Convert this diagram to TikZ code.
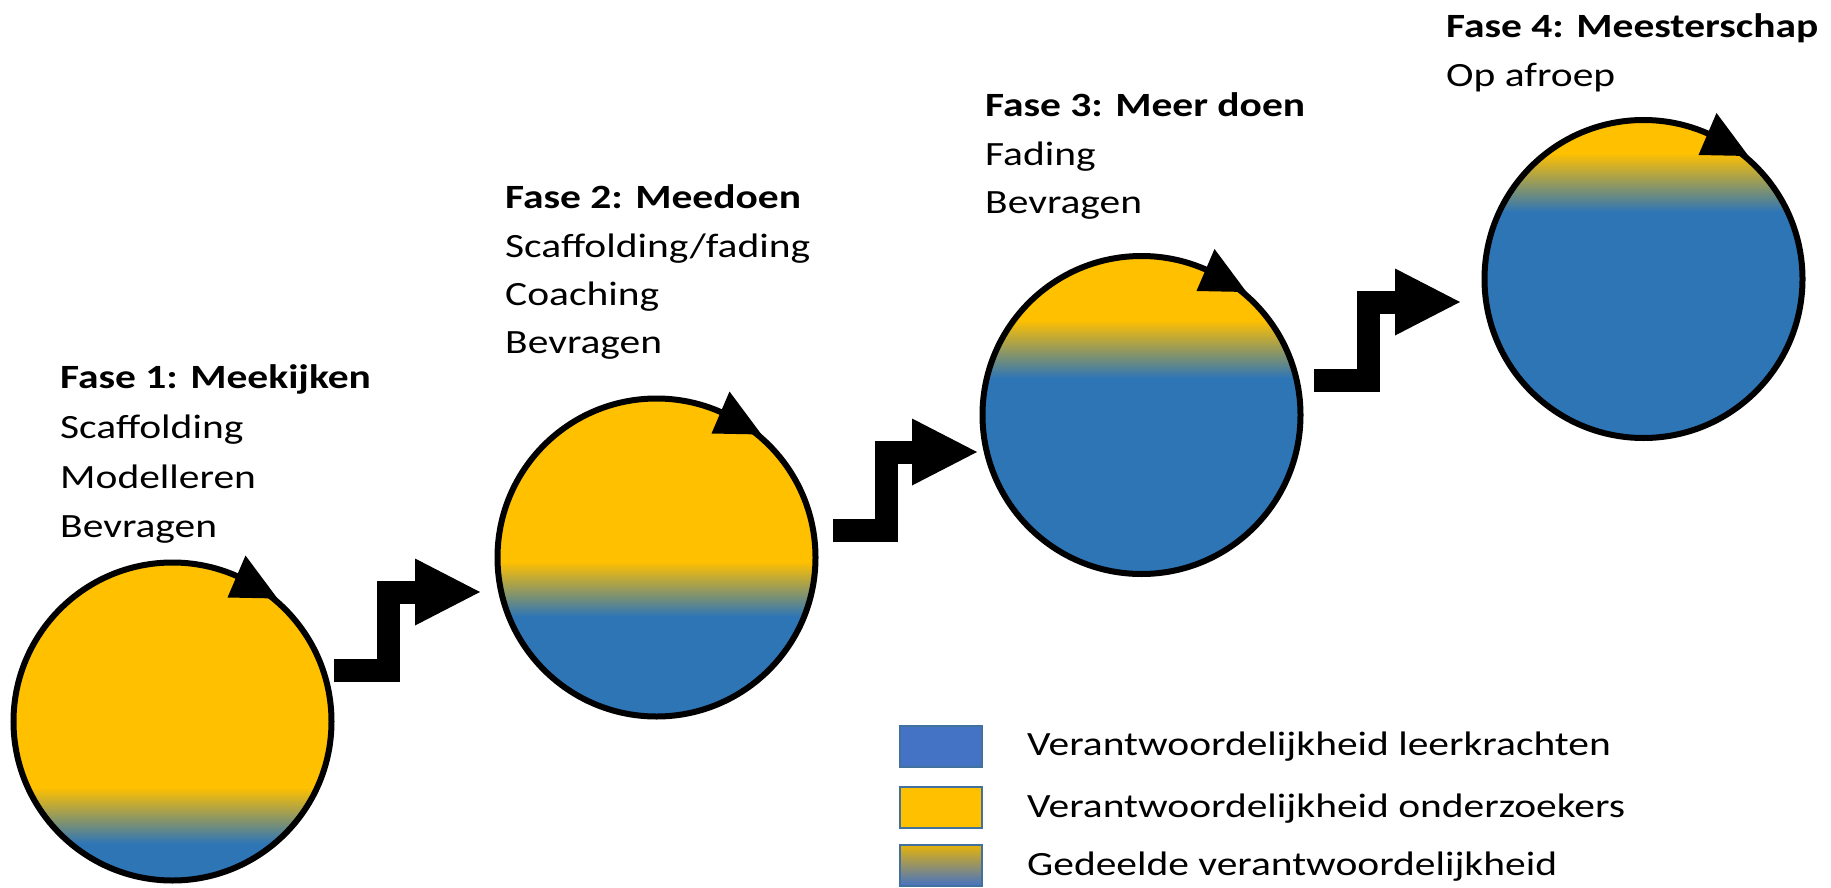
\documentclass[tikz,border=0pt]{standalone}
\usepackage{fontspec}
\setmainfont{Carlito}
\newfontfamily\phasefont{Carlito}[FakeStretch=1.22]
\usetikzlibrary{calc,arrows.meta}
\definecolor{cy}{HTML}{FFC000}
\definecolor{cb}{HTML}{2E75B6}
\definecolor{lb}{HTML}{4472C4}
\definecolor{lborder}{HTML}{41719C}
\definecolor{gy}{HTML}{E4B20C}
\newcommand\circtip[1]{\fill[black] ($(#1)+(105,-123)$) -- ($(#1)+(73,-166)$) -- ($(#1)+(55,-124)$) -- cycle;}
\tikzset{
  phase/.style 2 args={circle, minimum size=318pt, inner sep=0pt, outer sep=0pt,
    line width=6pt, draw=black,
    path picture={
      \fill[cy] ($(path picture bounding box.center)+(-200,-200)$) rectangle ($(path picture bounding box.center)+(200,#1)$);
      \shade[top color=cy, bottom color=cb] ($(path picture bounding box.center)+(-200,#1)$) rectangle ($(path picture bounding box.center)+(200,#2)$);
      \fill[cb] ($(path picture bounding box.center)+(-200,#2)$) rectangle ($(path picture bounding box.center)+(200,200)$);
    }},
  ttl/.style={anchor=base west, inner sep=0pt, font=\phasefont\bfseries\fontsize{34}{40}\selectfont},
  itm/.style={anchor=base west, inner sep=0pt, font=\phasefont\fontsize{34}{40}\selectfont},
  legtxt/.style={anchor=base west, inner sep=0pt, font=\phasefont\fontsize{34}{40}\selectfont},
  legbox/.style={minimum width=82pt, minimum height=41pt, inner sep=0pt, draw=lborder, line width=1.5pt},
  steparrow/.style={line width=23pt, line join=miter, -{Triangle[length=65pt,width=67pt,line width=0pt]}}
}
\begin{document}
\begin{tikzpicture}[x=1pt,y=-1pt]
\useasboundingbox (0,0) rectangle (1831,888);
% circles
\node[phase={66}{122}] (c1) at (172.5,721.5) {};
\node[phase={4}{59}] (c2) at (656.5,557.5) {};
\node[phase={-95}{-37}] (c3) at (1141.5,415) {};
\node[phase={-126}{-67}] (c4) at (1643.5,279) {};
\circtip{c1.center}
\circtip{c2.center}
\circtip{c3.center}
\circtip{c4.center}
% step arrows
\coordinate (a1s) at (334,670);
\coordinate (a1e) at (480,592);
\coordinate (a2s) at (833,530);
\coordinate (a2e) at (977,452);
\coordinate (a3s) at (1314,380);
\coordinate (a3e) at (1460,302);
\draw[steparrow] (a1s) -- ++(54,0) |- (a1e);
\draw[steparrow] (a2s) -- ++(53,0) |- (a2e);
\draw[steparrow] (a3s) -- ++(54,0) |- (a3e);
% texts
\node[ttl] (f1) at (60,388) {Fase 1: Meekijken};
\node[itm] (f1a) at (60,438) {Scaffolding};
\node[itm] (f1b) at (60,488) {Modelleren};
\node[itm] (f1c) at (60,537) {Bevragen};
\node[ttl] (f2) at (505,208) {Fase 2: Meedoen};
\node[itm] (f2a) at (505,257) {Scaffolding/fading};
\node[itm] (f2b) at (505,305) {Coaching};
\node[itm] (f2c) at (505,353) {Bevragen};
\node[ttl] (f3) at (985,117) {Fase 3: Meer doen};
\node[itm] (f3a) at (985,165) {Fading};
\node[itm] (f3b) at (985,213) {Bevragen};
\node[ttl] (f4) at (1446,38) {Fase 4: Meesterschap};
\node[itm] (f4a) at (1446,86.5) {Op afroep};
% legend
\node[legbox, fill=lb] (l1) at (941,746.5) {};
\node[legbox, fill=cy] (l2) at (941,807.5) {};
\node[legbox, top color=gy, bottom color=lb] (l3) at (941,865.5) {};
\node[legtxt] (t1) at (1027,755) {Verantwoordelijkheid leerkrachten};
\node[legtxt] (t2) at (1027,817) {Verantwoordelijkheid onderzoekers};
\node[legtxt] (t3) at (1027,875) {Gedeelde verantwoordelijkheid};
\end{tikzpicture}
\end{document}
